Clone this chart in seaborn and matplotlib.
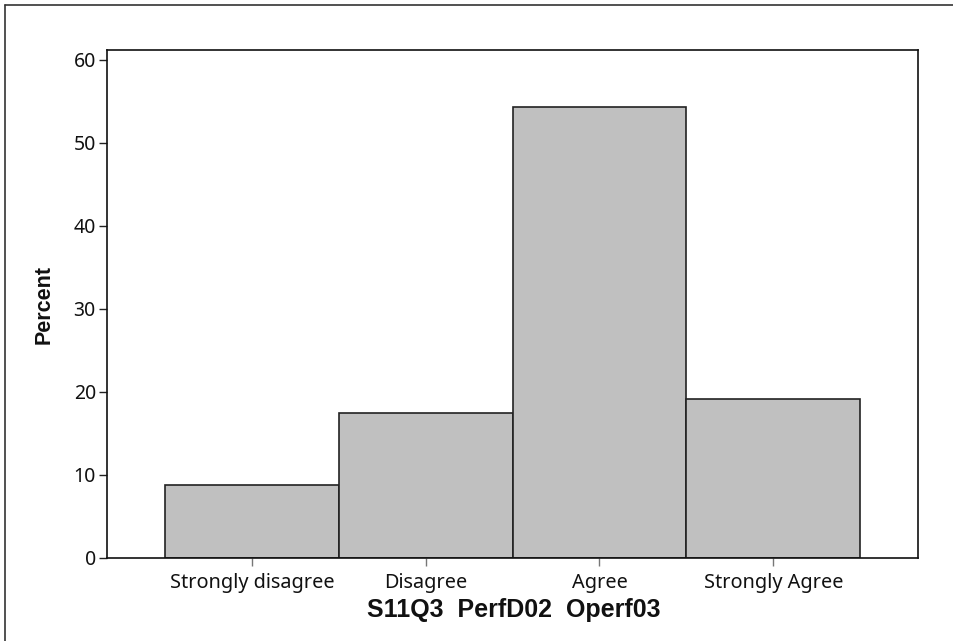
import matplotlib
matplotlib.use("Agg")
import matplotlib.pyplot as plt
import seaborn as sns
import pandas as pd
from matplotlib.lines import Line2D

categories = ["Strongly disagree", "Disagree", "Agree", "Strongly Agree"]
percent = [8.8, 17.5, 54.3, 19.2]
y_ticks = [0, 10, 20, 30, 40, 50, 60]

df = pd.DataFrame({"answer": categories, "percent": percent})

sns.set_style("white")
plt.rcParams['font.family'] = ['Noto Sans', 'DejaVu Sans']

fig = plt.figure(figsize=(9.54, 6.41), dpi=100)
ax = fig.add_axes([0.1122, 0.1295, 0.8501, 0.7925])

sns.barplot(data=df, x="answer", y="percent", color="#c0c0c0", saturation=1,
            edgecolor="#222222", linewidth=1.2, width=1.0, ax=ax)

ax.set_xlim(-0.833, 3.833)
ax.set_ylim(0, 61.2)
ax.set_yticks(y_ticks)
ax.tick_params(axis="y", direction="out", length=6, width=1, color="#222222",
               labelsize=14, labelcolor="#111111", pad=2, left=True)
ax.tick_params(axis="x", direction="out", length=6, width=1, color="#777777",
               labelsize=14.3, labelcolor="#111111", pad=5, bottom=True)
for s in ax.spines.values():
    s.set_color("#111111")
    s.set_linewidth(1.2)

ax.set_xlabel("S11Q3  PerfD02  Operf03", family="Liberation Sans",
              fontweight="bold", fontsize=18, color="#111111")
ax.xaxis.set_label_coords(0.501, -0.079)
ax.set_ylabel("Percent", family="Liberation Sans", fontweight="bold",
              fontsize=15.5, color="#111111")
ax.yaxis.set_label_coords(-0.0645, 0.499)

# outer frame (top and left edges only visible)
fig.add_artist(Line2D([5 / 954, 1], [1 - 5 / 641, 1 - 5 / 641],
                      transform=fig.transFigure, color="#333333", lw=1.2))
fig.add_artist(Line2D([5 / 954, 5 / 954], [0, 1 - 5 / 641],
                      transform=fig.transFigure, color="#333333", lw=1.2))

fig.savefig("out.png", dpi=100)
plt.close(fig)
